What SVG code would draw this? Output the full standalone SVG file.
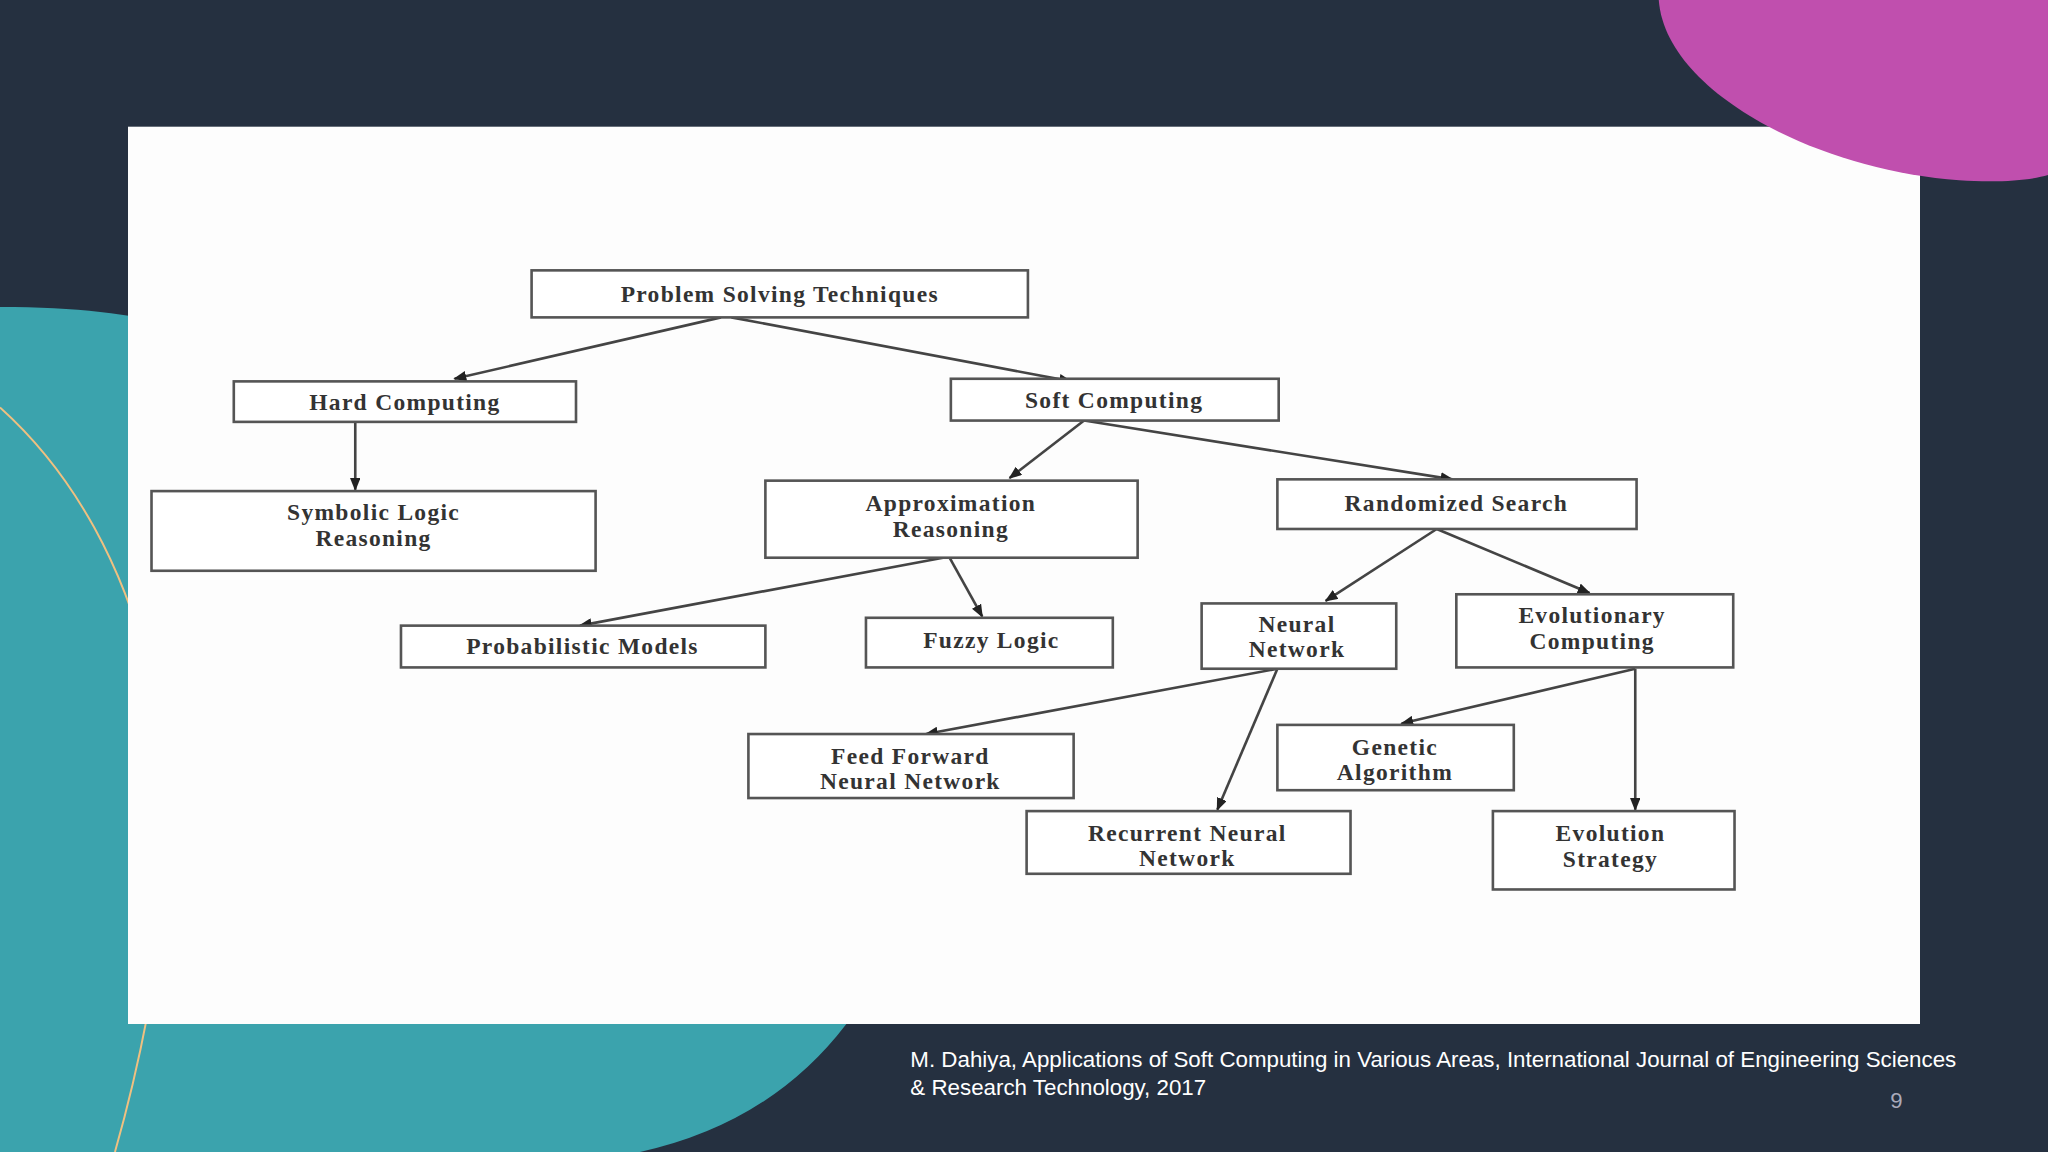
<svg xmlns="http://www.w3.org/2000/svg" width="2048" height="1152" viewBox="0 0 2048 1152">
<style>
.b{fill:#fff;stroke:#555;stroke-width:2}
.t{font-family:"Liberation Serif",serif;font-weight:bold;font-size:18px;fill:#333;text-anchor:middle;letter-spacing:1px}
.c{stroke:#444;stroke-width:2;fill:none;marker-end:url(#a)}
.f{font-family:"Liberation Sans",sans-serif;font-size:17.1px;fill:#fff}
</style>
<defs><marker id="a" markerWidth="10" markerHeight="8" refX="9" refY="4" orient="auto" markerUnits="userSpaceOnUse"><path d="M0,0 L10,4 L0,8 Z" fill="#222"/></marker></defs>
<g transform="scale(1.30612)">
<rect width="1568" height="882" fill="#253040"/>
<path d="M0,235 C60,235 98,240 140,250 L140,784 L648,784 Q590,860 490,882 L0,882 Z" fill="#3ba3ad"/>
<path d="M0,312 C120,420 140,600 125,700 C115,780 100,840 88,882" stroke="#f0c080" stroke-width="1.5" fill="none"/>
<rect x="98" y="97" width="1372" height="687" fill="#fdfdfd"/>
<path d="M1270,0 C1275,70 1390,130 1500,138 C1530,140 1555,138 1568,134 L1568,0 Z" fill="#c04fae"/>
<g id="connectors">
<path class="c" d="M552,243 L348,290"/>
<path class="c" d="M560,243 L820,292"/>
<path class="c" d="M272,323 L272,375"/>
<path class="c" d="M830,322 L773,366"/>
<path class="c" d="M830,322 L1112,367"/>
<path class="c" d="M722,427 L444,479"/>
<path class="c" d="M727,427 L752,472"/>
<path class="c" d="M1100,405 L1015,460"/>
<path class="c" d="M1100,405 L1217,454"/>
<path class="c" d="M978,512 L709,562"/>
<path class="c" d="M978,512 L932,620"/>
<path class="c" d="M1252,512 L1073,554"/>
<path class="c" d="M1252,512 L1252,620"/>
</g>
<g id="n1"><rect class="b" x="407" y="207" width="380" height="36"/><text class="t" x="597" y="231">Problem Solving Techniques</text></g>
<g id="n2"><rect class="b" x="179" y="292" width="262" height="31"/><text class="t" x="310" y="314">Hard Computing</text></g>
<g id="n3"><rect class="b" x="728" y="290" width="251" height="32"/><text class="t" x="853" y="312">Soft Computing</text></g>
<g id="n4"><rect class="b" x="116" y="376" width="340" height="61"/><text class="t" x="286" y="398">Symbolic Logic</text><text class="t" x="286" y="418">Reasoning</text></g>
<g id="n5"><rect class="b" x="586" y="368" width="285" height="59"/><text class="t" x="728" y="391">Approximation</text><text class="t" x="728" y="411">Reasoning</text></g>
<g id="n6"><rect class="b" x="978" y="367" width="275" height="38"/><text class="t" x="1115" y="391">Randomized Search</text></g>
<g id="n7"><rect class="b" x="307" y="479" width="279" height="32"/><text class="t" x="446" y="501">Probabilistic Models</text></g>
<g id="n8"><rect class="b" x="663" y="473" width="189" height="38"/><text class="t" x="759" y="496">Fuzzy Logic</text></g>
<g id="n9"><rect class="b" x="920" y="462" width="149" height="50"/><text class="t" x="993" y="484">Neural</text><text class="t" x="993" y="503">Network</text></g>
<g id="n10"><rect class="b" x="1115" y="455" width="212" height="56"/><text class="t" x="1219" y="477">Evolutionary</text><text class="t" x="1219" y="497">Computing</text></g>
<g id="n11"><rect class="b" x="573" y="562" width="249" height="49"/><text class="t" x="697" y="585">Feed Forward</text><text class="t" x="697" y="604">Neural Network</text></g>
<g id="n12"><rect class="b" x="978" y="555" width="181" height="50"/><text class="t" x="1068" y="578">Genetic</text><text class="t" x="1068" y="597">Algorithm</text></g>
<g id="n13"><rect class="b" x="786" y="621" width="248" height="48"/><text class="t" x="909" y="644">Recurrent Neural</text><text class="t" x="909" y="663">Network</text></g>
<g id="n14"><rect class="b" x="1143" y="621" width="185" height="60"/><text class="t" x="1233" y="644">Evolution</text><text class="t" x="1233" y="664">Strategy</text></g>
<text class="f" x="697" y="817">M. Dahiya, Applications of Soft Computing in Various Areas, International Journal of Engineering Sciences</text>
<text class="f" x="697" y="838">&amp; Research Technology, 2017</text>
<text x="1452" y="848" style="font-family:'Liberation Sans',sans-serif;font-size:17px;fill:#aab" text-anchor="middle">9</text>
</g>
</svg>
